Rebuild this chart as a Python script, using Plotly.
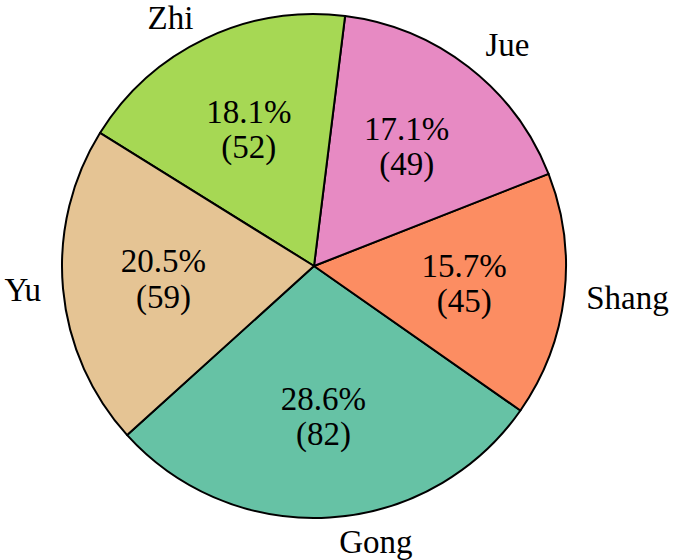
import math
import plotly.graph_objects as go

labels = ["Gong", "Shang", "Jue", "Zhi", "Yu"]
values = [82, 45, 49, 52, 59]
colors = ["#66c2a5", "#fc8d62", "#e78ac3", "#a6d854", "#e5c494"]


def rounded_percents(vals, decimals=1):
    """Largest-remainder rounding so the shown percentages add up to 100."""
    scale = 10 ** decimals
    total = sum(vals)
    raw = [v * 100 * scale / total for v in vals]
    floors = [math.floor(r) for r in raw]
    missing = 100 * scale - sum(floors)
    order = sorted(range(len(vals)), key=lambda i: raw[i] - floors[i], reverse=True)
    for i in order[:missing]:
        floors[i] += 1
    return [f / scale for f in floors]


pcts = rounded_percents(values)
big = "<span style='font-size:33px'>{}</span>"
inside_text = [big.format(f"{p:.1f}%") + "<br>" + big.format(f"({v})")
               for p, v in zip(pcts, values)]

FAM = "Liberation Serif"
label_font = dict(family=FAM, size=33, color="black")
inside_font = dict(family=FAM, size=27, color="black")

# plot area is 530 px square; radii in px
PA = 530.0
R_PIE, R_TEXT = 252, 215
pct_radius = 0.6 * R_PIE
hole = 1 - 2 * (1 - pct_radius / R_TEXT)

# radius (px) of the invisible ring that carries each outside label
label_ring = {"Gong": 259, "Zhi": 259, "Shang": 265, "Jue": 265, "Yu": 265}


def dom(r):
    f = r / PA
    return dict(x=[0.5 - f, 0.5 + f], y=[0.5 - f, 0.5 + f])


clear = ["rgba(0,0,0,0)"] * len(labels)
common = dict(labels=labels, values=values, sort=False, direction="counterclockwise",
              rotation=125, automargin=False, showlegend=False, hoverinfo="skip")

fig = go.Figure()
fig.add_trace(go.Pie(
    **common, domain=dom(R_PIE),
    marker=dict(colors=colors, line=dict(color="black", width=2)),
    textinfo="none",
))
fig.add_trace(go.Pie(
    **common, domain=dom(R_TEXT), hole=hole,
    marker=dict(colors=clear, line=dict(width=0)),
    text=inside_text, textinfo="text",
    textposition="inside", insidetextorientation="horizontal",
    textfont=inside_font,
))
for ring in sorted(set(label_ring.values())):
    fig.add_trace(go.Pie(
        **common, domain=dom(ring),
        marker=dict(colors=clear, line=dict(width=0)),
        text=[l if label_ring[l] == ring else "" for l in labels],
        textinfo="text", textposition="outside",
        textfont=label_font,
    ))
fig.update_layout(
    width=673, height=560,
    margin=dict(l=49, r=94, t=1, b=29, autoexpand=False),
    paper_bgcolor="white", plot_bgcolor="white",
    font=label_font,
)
fig.write_html(
    "out.html",
    config={"displayModeBar": False},
    post_script="document.body.style.margin='0';document.body.style.overflow='hidden';",
)
